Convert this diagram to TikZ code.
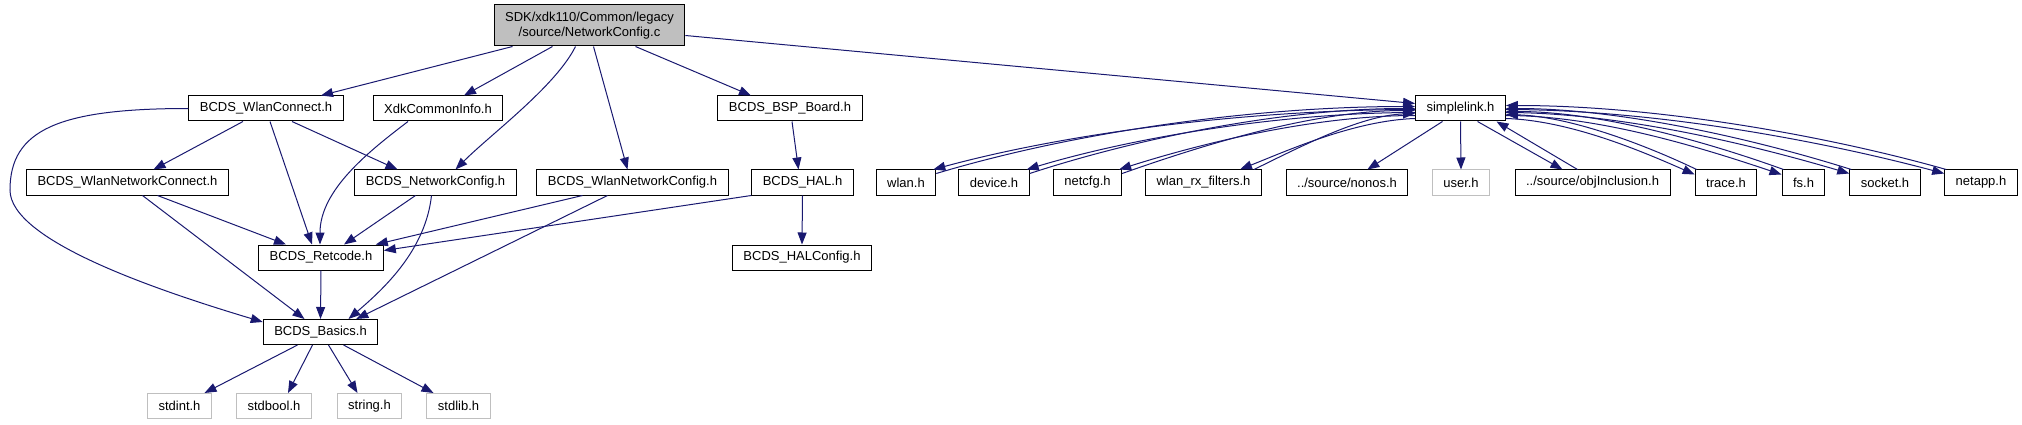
\documentclass[tikz,border=0pt]{standalone}
\usepackage{fontspec}
\setmainfont{Liberation Sans}
\usetikzlibrary{arrows.meta}
\definecolor{edgeblue}{RGB}{25,25,112}
\definecolor{rootgray}{RGB}{191,191,191}

\begin{document}
\begin{tikzpicture}[x=1pt, y=-1pt,
    hdr/.style={draw=black, fill=white, line width=1pt, inner xsep=11pt, inner ysep=0pt,
                minimum height=25pt, font=\fontsize{13}{15}\selectfont},
    syshdr/.style={hdr, draw=rootgray},
    srcfile/.style={hdr, fill=rootgray, align=center, minimum height=41pt},
    dep/.style={draw=edgeblue, line width=1pt, -{Triangle[length=12pt, width=9pt]}}]
    \useasboundingbox (0,0) rectangle (2022,425);

    % Source file
    \node[srcfile] (root) at (589.5,25.5) {SDK/xdk110/Common/legacy\\/source/NetworkConfig.c};

    % Direct includes
    \node[hdr] (wlanconnect) at (266,108.5) {BCDS\_WlanConnect.h};
    \node[hdr] (xdkinfo) at (438,108.5) {XdkCommonInfo.h};
    \node[hdr] (bspboard) at (790,108.5) {BCDS\_BSP\_Board.h};
    \node[hdr] (simplelink) at (1460.5,108.5) {simplelink.h};

    % Third row
    \node[hdr] (wlannetconnect) at (127.5,182.5) {BCDS\_WlanNetworkConnect.h};
    \node[hdr] (netconfig) at (435.5,182.5) {BCDS\_NetworkConfig.h};
    \node[hdr] (wlannetconfig) at (632.5,182.5) {BCDS\_WlanNetworkConfig.h};
    \node[hdr] (hal) at (802.5,182.5) {BCDS\_HAL.h};
    \node[hdr] (wlanh) at (906,182.5) {wlan.h};
    \node[hdr] (deviceh) at (994,182.5) {device.h};
    \node[hdr] (netcfgh) at (1087.5,182.5) {netcfg.h};
    \node[hdr] (rxfilters) at (1203.5,182.5) {wlan\_rx\_filters.h};
    \node[hdr] (nonos) at (1347,182.5) {../source/nonos.h};
    \node[syshdr] (userh) at (1461,182.5) {user.h};
    \node[hdr] (objincl) at (1592.5,182.5) {../source/objInclusion.h};
    \node[hdr] (traceh) at (1726,182.5) {trace.h};
    \node[hdr] (fsh) at (1803.5,182.5) {fs.h};
    \node[hdr] (socketh) at (1885,182.5) {socket.h};
    \node[hdr] (netapph) at (1981,182.5) {netapp.h};

    % Lower rows
    \node[hdr] (retcode) at (321,257.5) {BCDS\_Retcode.h};
    \node[hdr] (halconfig) at (802,257.5) {BCDS\_HALConfig.h};
    \node[hdr] (basics) at (320.5,332) {BCDS\_Basics.h};
    \node[syshdr] (stdinth) at (179.5,406) {stdint.h};
    \node[syshdr] (stdboolh) at (274,406) {stdbool.h};
    \node[syshdr] (stringh) at (369.5,406) {string.h};
    \node[syshdr] (stdlibh) at (458.5,406) {stdlib.h};

    % From the source file
    \draw[dep] ([xshift=-77pt]root.south) -- ([xshift=55pt]wlanconnect.north);
    \draw[dep] ([xshift=-37pt]root.south) -- ([xshift=26pt]xdkinfo.north);
    \draw[dep] ([xshift=-14pt]root.south) .. controls +(-20,40) and +(35,-35) .. ([xshift=20pt]netconfig.north);
    \draw[dep] ([xshift=4pt]root.south) -- ([xshift=-5pt]wlannetconfig.north);
    \draw[dep] ([xshift=46pt]root.south) -- ([xshift=-39pt]bspboard.north);
    \draw[dep] ([yshift=-10pt]root.east) -- ([yshift=5pt]simplelink.west);

    % BCDS headers
    \draw[dep] (wlanconnect.west) .. controls +(-130,0) and +(0,-60) .. (10,190)
        .. controls +(0,50) and +(-110,-33) .. ([yshift=10pt]basics.west);
    \draw[dep] ([xshift=-23pt]wlanconnect.south) -- ([xshift=26pt]wlannetconnect.north);
    \draw[dep] ([xshift=4pt]wlanconnect.south) -- ([xshift=-9pt]retcode.north);
    \draw[dep] ([xshift=26pt]wlanconnect.south) -- ([xshift=-38pt]netconfig.north);
    \draw[dep] ([xshift=-30pt]xdkinfo.south) .. controls +(-38,29) and +(0,-55) .. ([xshift=-1pt]retcode.north);
    \draw[dep] ([xshift=30pt]wlannetconnect.south) -- ([xshift=-35pt]retcode.north);
    \draw[dep] ([xshift=15pt]wlannetconnect.south) -- ([xshift=-16pt]basics.north);
    \draw[dep] ([xshift=-20pt]netconfig.south) -- ([xshift=23pt]retcode.north);
    \draw[dep] ([xshift=-4pt]netconfig.south) .. controls +(-6,55) and +(35,-30) .. ([xshift=28pt]basics.north);
    \draw[dep] ([xshift=-50pt]wlannetconfig.south) -- ([xshift=-8pt]retcode.north east);
    \draw[dep] ([xshift=-25pt]wlannetconfig.south) -- ([xshift=-22pt]basics.north east);
    \draw[dep] (hal.south west) -- ([yshift=7pt]retcode.east);
    \draw[dep] ([xshift=2pt]bspboard.south) -- ([xshift=-4pt]hal.north);
    \draw[dep] (hal.south) -- (halconfig.north);
    \draw[dep] (retcode.south) -- (basics.north);
    \draw[dep] ([xshift=-23pt]basics.south) -- ([xshift=25pt]stdinth.north);
    \draw[dep] ([xshift=-8pt]basics.south) -- ([xshift=14pt]stdboolh.north);
    \draw[dep] ([xshift=8pt]basics.south) -- ([xshift=-12pt]stringh.north);
    \draw[dep] ([xshift=23pt]basics.south) -- ([xshift=-25pt]stdlibh.north);

    % simplelink.h and its headers (left)
    \draw[dep] ([yshift=-1pt]simplelink.west) .. controls +(-160,0) and +(140,-38) .. ([xshift=-3pt]wlanh.north east);
    \draw[dep] ([yshift=-4pt]wlanh.north east) .. controls +(140,-42) and +(-160,0) .. ([yshift=2pt]simplelink.west);
    \draw[dep] ([yshift=-4pt]simplelink.west) .. controls +(-130,0) and +(110,-33) .. ([xshift=-3pt]deviceh.north east);
    \draw[dep] ([yshift=-4pt]deviceh.north east) .. controls +(110,-36) and +(-130,0) .. ([yshift=0pt]simplelink.west);
    \draw[dep] ([yshift=-7pt]simplelink.west) .. controls +(-100,0) and +(85,-27) .. ([xshift=-3pt]netcfgh.north east);
    \draw[dep] ([yshift=-4pt]netcfgh.north east) .. controls +(85,-30) and +(-100,0) .. ([yshift=-2pt]simplelink.west);
    \draw[dep] ([yshift=-10pt]simplelink.west) .. controls +(-60,2) and +(50,-20) .. ([xshift=-22pt]rxfilters.north east);
    \draw[dep] ([xshift=-8pt]rxfilters.north east) .. controls +(45,-22) and +(-55,2) .. ([yshift=-5pt]simplelink.west);
    \draw[dep] ([xshift=-18pt]simplelink.south) -- ([xshift=-41pt]nonos.north east);
    \draw[dep] (simplelink.south) -- (userh.north);
    \draw[dep] ([xshift=17pt]simplelink.south) -- ([xshift=-30pt]objincl.north);
    \draw[dep] ([xshift=-15pt]objincl.north) -- ([xshift=36pt]simplelink.south);

    % simplelink.h and its headers (right)
    \draw[dep] ([yshift=-10pt]simplelink.east) .. controls +(65,2) and +(-50,-22) .. ([yshift=-5pt]traceh.north west);
    \draw[dep] ([xshift=2pt]traceh.north west) .. controls +(-50,-24) and +(65,2) .. ([yshift=-6pt]simplelink.east);
    \draw[dep] ([yshift=-7pt]simplelink.east) .. controls +(95,0) and +(-75,-25) .. ([yshift=-5pt]fsh.north west);
    \draw[dep] ([xshift=2pt]fsh.north west) .. controls +(-75,-27) and +(95,0) .. ([yshift=-3pt]simplelink.east);
    \draw[dep] ([yshift=-4pt]simplelink.east) .. controls +(115,0) and +(-95,-28) .. ([yshift=-4pt]socketh.north west);
    \draw[dep] ([xshift=2pt]socketh.north west) .. controls +(-95,-30) and +(115,0) .. (simplelink.east);
    \draw[dep] ([yshift=-1pt]simplelink.east) .. controls +(150,0) and +(-120,-32) .. ([yshift=-4pt]netapph.north west);
    \draw[dep] ([xshift=2pt]netapph.north west) .. controls +(-120,-34) and +(150,0) .. ([yshift=3pt]simplelink.east);
\end{tikzpicture}
\end{document}
